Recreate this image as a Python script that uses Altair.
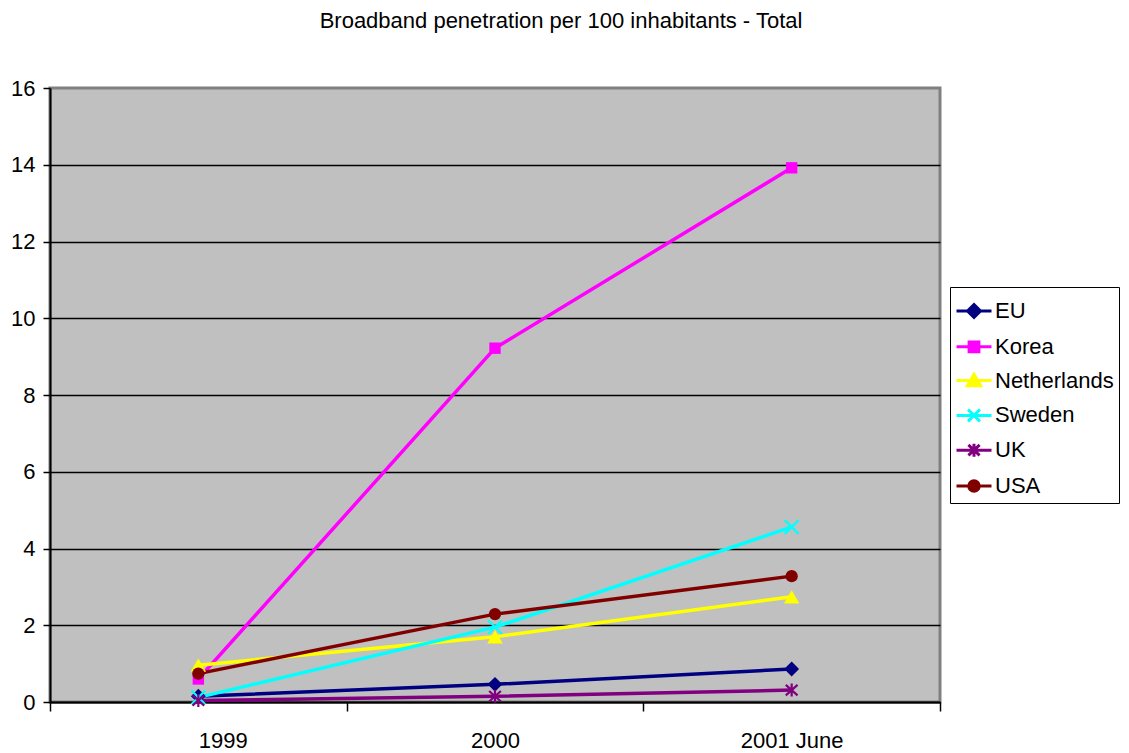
import json
import altair as alt
import pandas as pd

years = ["1999", "2000", "2001 June"]
series = ["EU", "Korea", "Netherlands", "Sweden", "UK", "USA"]
eu = [0.15, 0.46, 0.86]
korea = [0.6, 9.22, 13.92]
netherlands = [0.96, 1.7, 2.74]
sweden = [0.12, 1.95, 4.56]
uk = [0.04, 0.15, 0.31]
usa = [0.74, 2.29, 3.28]
colors = ["#000080", "#FF00FF", "#FFFF00", "#00FFFF", "#800080", "#800000"]

values = [eu, korea, netherlands, sweden, uk, usa]
rows = []
for s, vals in zip(series, values):
    for i, (yr, v) in enumerate(zip(years, vals)):
        rows.append({"series": s, "year": yr, "xpos": i + 0.5, "value": v})
df = pd.DataFrame(rows)

FONT = "Liberation Sans"

marker_shapes = {
    "EU": ("diamond", True, 220),
    "Korea": ("square", True, 130),
    "Netherlands": ("triangle-up", True, 240),
    "Sweden": ("M-1,-1L1,1M-1,1L1,-1", False, 190),
    "UK": ("M0,-1V1M-0.9,-0.8L0.9,0.8M-0.9,0.8L0.9,-0.8", False, 170),
    "USA": ("circle", True, 150),
}

legend_paths = [
    "M-1,0H1M0,-0.37L0.37,0L0,0.37L-0.37,0Z",
    "M-1,0H1M-0.28,-0.28H0.28V0.28H-0.28Z",
    "M-1,0H1M0,-0.36L0.38,0.3H-0.38Z",
    "M-1,0H1M-0.34,-0.34L0.34,0.34M-0.34,0.34L0.34,-0.34",
    "M-1,0H1M0,-0.37V0.37M-0.32,-0.3L0.32,0.3M-0.32,0.3L0.32,-0.3",
    "M-1,0H1M-0.3,0A0.3,0.3 0 1 0 0.3,0A0.3,0.3 0 1 0 -0.3,0Z",
]

label_expr = "(" + json.dumps(years) + ")[datum.value] || ''"

W, H = 890, 614

x_enc = alt.X(
    "xpos:Q",
    scale=alt.Scale(domain=[0, 3], nice=False, zero=False),
    axis=alt.Axis(
        values=[0, 1, 2, 3], labelExpr=label_expr, labelOffset=W / 6,
        tickSize=9, tickColor="black", tickWidth=1.5, labelPadding=19,
        grid=False, title=None, domainColor="black", domainWidth=2,
        labelFontSize=22, labelFont=FONT, labelColor="black",
    ),
)
y_enc = alt.Y(
    "value:Q",
    scale=alt.Scale(domain=[0, 16], nice=False),
    axis=alt.Axis(
        values=list(range(0, 17, 2)), tickSize=7, tickColor="black", tickWidth=1.5,
        labelPadding=8, grid=True, gridColor="black", gridWidth=1.5,
        gridOpacity={"condition": {"test": "datum.value == 16", "value": 0}, "value": 1},
        title=None, domainColor="black", domainWidth=2,
        labelFontSize=22, labelFont=FONT, labelColor="black",
    ),
)

# data-driven domain (alphabetical == series order) so that the hidden colour
# legend is not merged with the visible legend below
color_scale = alt.Scale(range=colors)

base = alt.Chart(df)

lines = base.mark_line(strokeWidth=3.5).encode(
    x=x_enc, y=y_enc,
    color=alt.Color("series:N", scale=color_scale, legend=None),
    order=alt.Order("xpos:Q"),
)

layers = [lines]
for s in series:
    shp, filled, size = marker_shapes[s]
    layers.append(
        base.transform_filter(alt.datum.series == s)
        .mark_point(shape=shp, filled=filled, size=size, strokeWidth=2.2, opacity=1)
        .encode(x=x_enc, y=y_enc,
                color=alt.Color("series:N", scale=color_scale, legend=None))
    )

leg = alt.Legend(
    title=None, orient="none", legendX=W + 10, legendY=199,
    labelFontSize=22, labelFont=FONT, labelColor="black", labelOffset=2,
    symbolSize=1225, symbolStrokeWidth=3, rowPadding=3.8,
    padding=5, strokeColor="black", symbolOpacity=1,
)

legend_layer = (
    base.mark_point(filled=True, opacity=0, strokeWidth=3)
    .encode(
        x=x_enc, y=y_enc,
        fill=alt.Fill("series:N", scale=alt.Scale(domain=series, range=colors), legend=leg),
        stroke=alt.Stroke("series:N", scale=alt.Scale(domain=series, range=colors), legend=leg),
        shape=alt.Shape("series:N", scale=alt.Scale(domain=series, range=legend_paths), legend=leg),
    )
)
layers.append(legend_layer)

chart = (
    alt.layer(*layers)
    .properties(
        width=W, height=H,
        title=alt.TitleParams(
            "Broadband penetration per 100 inhabitants - Total",
            fontSize=22, font=FONT, fontWeight="normal", color="black",
            anchor="middle", dx=66, offset=44,
        ),
        autosize=alt.AutoSizeParams(type="none"),
        padding={"left": 42, "top": 80, "right": 181, "bottom": 52},
        background="white",
    )
    .configure_view(fill="#C0C0C0", stroke="#808080", strokeWidth=3)
)

chart.save("out.html", embed_options={"renderer": "svg", "actions": False})
